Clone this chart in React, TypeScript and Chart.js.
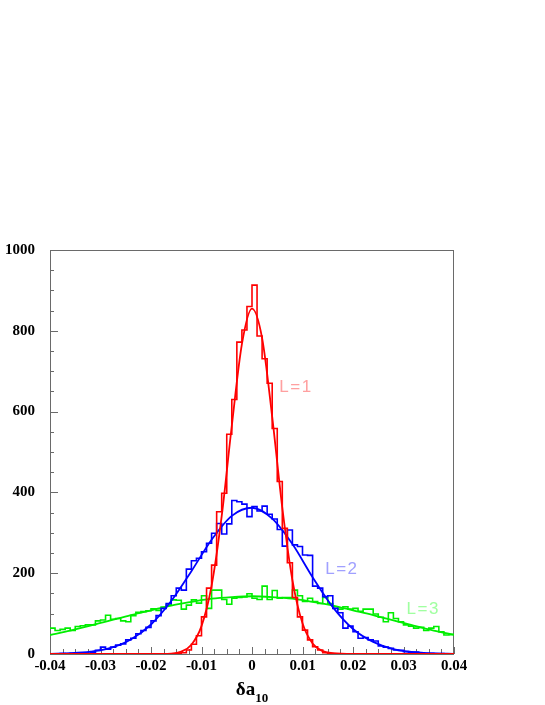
import React, { useEffect, useRef } from "react";
import { Chart, registerables } from "chart.js";

Chart.register(...registerables);

// Histogram binning: 80 bins of width 0.001 from -0.04 to 0.04
const BIN_START = -0.04;
const BIN_WIDTH = 0.001;

// L=1 histogram (red), bins -0.040 ... 0.039
const histL1 = [
  0, 0, 0, 0, 0, 0, 0, 0, 0, 0,
  0, 0, 0, 0, 0, 0, 0, 0, 0, 0,
  0, 0, 0, 0, 0, 1, 3, 10, 24, 45,
  92, 163, 220, 352, 398, 544, 630, 772, 802, 860,
  913, 787, 731, 670, 558, 427, 311, 226, 140, 92,
  59, 35, 18, 10, 3, 1, 0, 0, 0, 0,
  0, 0, 0, 0, 0, 0, 0, 0, 0, 0,
  0, 0, 0, 0, 0, 0, 0, 0, 0, 0,
];

// L=2 histogram (blue)
const histL2 = [
  0, 0, 1, 0, 2, 2, 3, 2, 4, 9,
  17, 12, 17, 22, 25, 35, 39, 50, 58, 66,
  82, 95, 113, 125, 144, 163, 158, 210, 231, 237,
  253, 274, 299, 323, 297, 322, 380, 377, 371, 340,
  365, 354, 366, 346, 334, 308, 267, 307, 270, 266,
  245, 244, 168, 163, 142, 144, 113, 102, 64, 69,
  55, 39, 41, 35, 32, 20, 17, 14, 10, 9,
  6, 4, 5, 3, 2, 2, 1, 1, 0, 0,
];

// L=3 histogram (green)
const histL3 = [
  64, 58, 61, 64, 58, 68, 70, 72, 72, 82,
  84, 96, 86, 88, 82, 80, 95, 103, 105, 107,
  112, 108, 116, 121, 134, 133, 111, 121, 134, 126,
  144, 113, 158, 158, 135, 123, 138, 140, 141, 149,
  138, 135, 168, 135, 157, 138, 140, 140, 158, 144,
  130, 138, 130, 125, 140, 125, 117, 111, 117, 111,
  113, 106, 111, 111, 99, 91, 80, 102, 88, 80,
  72, 69, 64, 66, 58, 64, 68, 55, 47, 48,
];

// Fitted curves
const redFitX = [-0.04, -0.02, -0.016, -0.014, -0.012, -0.01, -0.008, -0.006, -0.004, -0.002, 0, 0.002, 0.004, 0.006, 0.008, 0.01, 0.012, 0.014, 0.016, 0.02, 0.04];
const redFitY = [0, 0, 1, 6, 23, 69, 169, 341, 565, 767, 855, 782, 587, 362, 183, 76, 26, 7, 2, 0, 0];

const blueFitX = [-0.04, -0.036, -0.032, -0.028, -0.024, -0.02, -0.016, -0.012, -0.008, -0.004, 0, 0.004, 0.008, 0.012, 0.016, 0.02, 0.024, 0.028, 0.032, 0.036, 0.04];
const blueFitY = [0.5, 1.9, 5.7, 15, 36, 73, 131, 205, 283, 342, 362, 335, 272, 190, 116, 62, 30, 12, 4.5, 1.5, 0.4];

const greenFitX = [-0.04, -0.036, -0.032, -0.028, -0.024, -0.02, -0.016, -0.012, -0.008, -0.004, 0, 0.004, 0.008, 0.012, 0.016, 0.02, 0.024, 0.028, 0.032, 0.036, 0.04];
const greenFitY = [47, 58, 70, 83, 96, 108, 120, 129, 137, 141, 143, 141, 137, 129, 120, 108, 96, 83, 70, 58, 48];

const seriesLabels = ["L=1", "L=2", "L=3"];
const seriesColors = ["#ff0000", "#0000ff", "#00ee00"];
const labelColors = ["#ffa0a0", "#a0a0ff", "#a0ffa0"];
// label anchor (left, baseline) in data coordinates
const labelAnchorX = [0.0054, 0.0145, 0.0306];
const labelAnchorY = [648, 199, 99];

const X_MIN = -0.04;
const X_MAX = 0.04;
const Y_MIN = 0;
const Y_MAX = 1000;

function histPoints(vals: number[]) {
  const pts = vals.map((v, i) => ({ x: BIN_START + i * BIN_WIDTH, y: v }));
  pts.push({ x: BIN_START + vals.length * BIN_WIDTH, y: vals[vals.length - 1] });
  return pts;
}

function curvePoints(xs: number[], ys: number[]) {
  return xs.map((x, i) => ({ x, y: ys[i] }));
}

const frameTicks = {
  id: "frameTicks",
  beforeDatasetsDraw(chart: any) {
    const { ctx, chartArea, scales } = chart;
    const { left, right, top, bottom } = chartArea;
    const x = scales.x;
    const y = scales.y;
    ctx.save();
    ctx.strokeStyle = "#6a6a6a";
    ctx.lineWidth = 1;
    ctx.strokeRect(left + 0.5, top + 0.5, right - left - 1, bottom - top);
    ctx.beginPath();
    for (let v = Y_MIN; v <= Y_MAX; v += 50) {
      const py = Math.round(y.getPixelForValue(v)) + 0.5;
      const len = v % 200 === 0 ? 8 : 4;
      ctx.moveTo(left, py);
      ctx.lineTo(left + len, py);
    }
    for (let k = 0; k <= 32; k++) {
      const v = X_MIN + k * 0.0025;
      const px = Math.round(x.getPixelForValue(v)) + 0.5;
      const len = k % 4 === 0 ? 7 : 5;
      ctx.moveTo(px, bottom);
      ctx.lineTo(px, bottom - len);
    }
    ctx.stroke();
    ctx.restore();
  },
  afterDatasetsDraw(chart: any) {
    const { ctx, scales } = chart;
    const x = scales.x;
    const y = scales.y;
    ctx.save();
    // series labels
    ctx.font = "17px 'Liberation Sans'";
    ctx.textBaseline = "alphabetic";
    ctx.textAlign = "left";
    try { (ctx as any).letterSpacing = "1.5px"; } catch (e) {}
    seriesLabels.forEach((t, i) => {
      ctx.fillStyle = labelColors[i];
      ctx.fillText(t, x.getPixelForValue(labelAnchorX[i]), y.getPixelForValue(labelAnchorY[i]));
    });
    try { (ctx as any).letterSpacing = "0px"; } catch (e) {}
    // axis title: δa with subscript 10
    ctx.fillStyle = "#000";
    const main = "δa";
    const sub = "10";
    ctx.font = "bold 19px 'Liberation Serif'";
    const wMain = ctx.measureText(main).width;
    ctx.font = "bold 13px 'Liberation Serif'";
    const wSub = ctx.measureText(sub).width;
    const cx = x.getPixelForValue(0);
    const startX = cx - (wMain + wSub) / 2;
    ctx.font = "bold 19px 'Liberation Serif'";
    ctx.fillText(main, startX, 695);
    ctx.font = "bold 13px 'Liberation Serif'";
    ctx.fillText(sub, startX + wMain, 702);
    ctx.restore();
  },
};

export default function App() {
  const canvasRef = useRef<HTMLCanvasElement | null>(null);

  useEffect(() => {
    document.body.style.margin = "0";
    const canvas = canvasRef.current;
    if (!canvas) return;
    const tickFont = { family: "'Liberation Serif'", size: 15, weight: "bold" as const };
    const chart = new Chart(canvas, {
      type: "line",
      data: {
        datasets: [
          { data: histPoints(histL1), borderColor: seriesColors[0], borderWidth: 1.6, stepped: "before", pointRadius: 0, fill: false },
          { data: curvePoints(redFitX, redFitY), borderColor: seriesColors[0], borderWidth: 1.8, cubicInterpolationMode: "monotone", pointRadius: 0, fill: false },
          { data: histPoints(histL2), borderColor: seriesColors[1], borderWidth: 1.6, stepped: "before", pointRadius: 0, fill: false },
          { data: curvePoints(blueFitX, blueFitY), borderColor: seriesColors[1], borderWidth: 1.8, cubicInterpolationMode: "monotone", pointRadius: 0, fill: false },
          { data: histPoints(histL3), borderColor: seriesColors[2], borderWidth: 1.6, stepped: "before", pointRadius: 0, fill: false },
          { data: curvePoints(greenFitX, greenFitY), borderColor: seriesColors[2], borderWidth: 1.8, cubicInterpolationMode: "monotone", pointRadius: 0, fill: false },
        ] as any,
      },
      options: {
        animation: false,
        responsive: false,
        maintainAspectRatio: false,
        layout: { padding: { top: 250, right: 91, left: 0, bottom: 0 } },
        plugins: { legend: { display: false }, tooltip: { enabled: false }, title: { display: false } },
        elements: { point: { radius: 0 } },
        scales: {
          x: {
            type: "linear",
            min: X_MIN,
            max: X_MAX,
            ticks: {
              stepSize: 0.01,
              font: tickFont,
              color: "#000",
              padding: 3,
              maxRotation: 0,
              autoSkip: false,
              callback: (v: any) => {
                const r = Math.round(Number(v) * 100) / 100;
                return r === 0 ? "0" : String(r);
              },
            },
            grid: { display: false, drawTicks: false },
            border: { display: false },
            afterFit: (s: any) => { s.height = 51; },
          },
          y: {
            type: "linear",
            min: Y_MIN,
            max: Y_MAX,
            ticks: {
              stepSize: 200,
              font: tickFont,
              color: "#000",
              padding: 15,
              callback: (v: any) => String(Math.round(Number(v))),
            },
            grid: { display: false, drawTicks: false },
            border: { display: false },
            afterFit: (s: any) => { s.width = 50; },
          },
        },
      } as any,
      plugins: [frameTicks],
    });
    return () => chart.destroy();
  }, []);

  return (
    <canvas ref={canvasRef} width={545} height={705} style={{ display: "block", width: 545, height: 705 }} />
  );
}
